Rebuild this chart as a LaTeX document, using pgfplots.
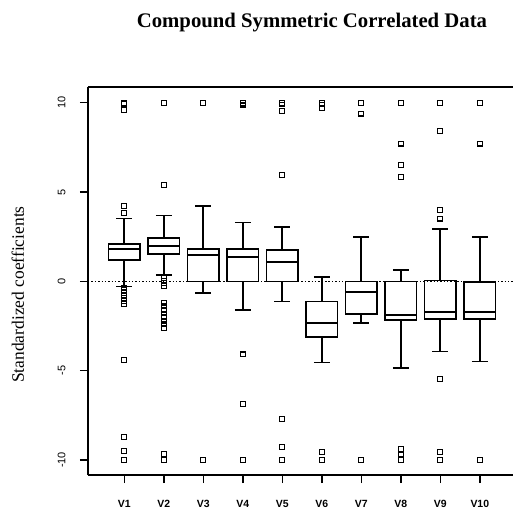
\documentclass[border=0pt]{standalone}
\usepackage{fontspec}
\setmainfont{Liberation Serif}
\newfontfamily\arial{Liberation Sans}
\usepackage{pgfplots}
\usepgfplotslibrary{statistics}
\pgfplotsset{compat=1.18}

\pgfplotsset{
  rbox/.style={black, solid, line width=1.7pt, mark=square,
    mark options={solid, line width=1.1pt}, mark size=2.4pt,
    boxplot/draw direction=y,
    boxplot/box extend=0.8, boxplot/whisker extend=0.4},
}

\begin{document}
\begin{tikzpicture}
\useasboundingbox (-88bp,-35bp) rectangle (425bp,475bp);
\begin{axis}[
  at={(0,0)}, anchor=south west, scale only axis,
  width=425bp, height=388bp,
  xmin=0.08, xmax=10.84, ymin=-10.84, ymax=10.88,
  axis lines=left, axis line style={-, line width=1.5pt},
  xtick={1,...,10}, xticklabels={V1,V2,V3,V4,V5,V6,V7,V8,V9,V10},
  ytick={-10,-5,0,5,10},
  tick align=outside, major tick length=8bp,
  tick style={black, line width=1.4pt},
  /pgf/number format/assume math mode=true,
  xticklabel style={font=\arial\bfseries\fontsize{10.5}{12}\selectfont, yshift=-14bp},
  yticklabel style={font=\arial\fontsize{11}{12}\selectfont, rotate=90, anchor=south, yshift=11bp},
  ylabel={Standardized coefficients},
  ylabel style={font=\fontsize{17.5}{19}\selectfont, at={(axis description cs:-0.165,0.465)}, anchor=center},
  title={Compound Symmetric Correlated Data},
  title style={font=\bfseries\fontsize{20.8}{23}\selectfont, at={(axis description cs:0.527,1.137)}, anchor=base},
  clip=false,
]
\addplot[black, dotted, line width=1.4pt, forget plot] coordinates {(0.08,0) (10.84,0)};

\addplot[rbox, boxplot prepared={draw position=1, lower whisker=-0.28, lower quartile=1.18, median=1.83, upper quartile=2.11, upper whisker=3.51}]
  table[row sep=\\, y index=0] {data\\ 10\\ 10\\ 9.95\\ 9.6\\ 4.22\\ 3.83\\ -0.35\\ -0.5\\ -0.65\\ -0.8\\ -0.95\\ -1.1\\ -1.25\\ -4.39\\ -8.7\\ -9.5\\ -10\\};
\addplot[rbox, boxplot prepared={draw position=2, lower whisker=0.35, lower quartile=1.55, median=1.98, upper quartile=2.41, upper whisker=3.68}]
  table[row sep=\\, y index=0] {data\\ 10\\ 10\\ 5.41\\ 0.2\\ 0.05\\ -0.1\\ -0.25\\ -1.2\\ -1.4\\ -1.6\\ -1.8\\ -2.0\\ -2.2\\ -2.4\\ -2.6\\ -9.65\\ -10\\};
\addplot[rbox, boxplot prepared={draw position=3, lower whisker=-0.65, lower quartile=0, median=1.49, upper quartile=1.83, upper whisker=4.22}]
  table[row sep=\\, y index=0] {data\\ 10\\ 10\\ -10\\ -10\\};
\addplot[rbox, boxplot prepared={draw position=4, lower whisker=-1.59, lower quartile=0, median=1.36, upper quartile=1.83, upper whisker=3.30}]
  table[row sep=\\, y index=0] {data\\ 10\\ 9.9\\ 9.85\\ -4.09\\ -6.87\\ -10\\};
\addplot[rbox, boxplot prepared={draw position=5, lower whisker=-1.12, lower quartile=0, median=1.08, upper quartile=1.74, upper whisker=3.04}]
  table[row sep=\\, y index=0] {data\\ 10\\ 9.9\\ 9.52\\ 5.95\\ -7.69\\ -9.28\\ -10\\};
\addplot[rbox, boxplot prepared={draw position=6, lower whisker=-4.55, lower quartile=-3.12, median=-2.33, upper quartile=-1.12, upper whisker=0.24}]
  table[row sep=\\, y index=0] {data\\ 10\\ 9.9\\ 9.7\\ -9.56\\ -10\\};
\addplot[rbox, boxplot prepared={draw position=7, lower whisker=-2.33, lower quartile=-1.81, median=-0.6, upper quartile=0, upper whisker=2.48}]
  table[row sep=\\, y index=0] {data\\ 10\\ 9.39\\ -10\\};
\addplot[rbox, boxplot prepared={draw position=8, lower whisker=-4.85, lower quartile=-2.18, median=-1.87, upper quartile=0, upper whisker=0.62}]
  table[row sep=\\, y index=0] {data\\ 10\\ 7.71\\ 6.53\\ 5.84\\ -9.4\\ -9.7\\ -10\\};
\addplot[rbox, boxplot prepared={draw position=9, lower whisker=-3.92, lower quartile=-2.09, median=-1.72, upper quartile=0.05, upper whisker=2.95}]
  table[row sep=\\, y index=0] {data\\ 10\\ 8.42\\ 3.98\\ 3.51\\ -5.45\\ -9.55\\ -10\\};
\addplot[rbox, boxplot prepared={draw position=10, lower whisker=-4.48, lower quartile=-2.09, median=-1.72, upper quartile=-0.02, upper whisker=2.48}]
  table[row sep=\\, y index=0] {data\\ 10\\ 7.71\\ -10\\};

\draw[line width=1.5pt] (rel axis cs:0,1) -- (rel axis cs:1,1);
\end{axis}
\end{tikzpicture}
\end{document}
